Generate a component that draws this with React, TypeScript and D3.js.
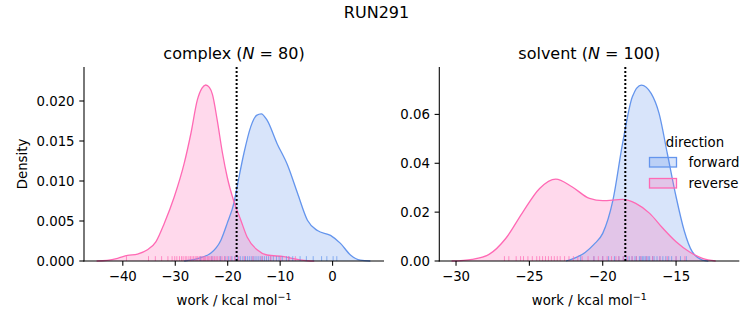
import React from 'react';
import * as d3 from 'd3';

// ---------- data ----------
const complexForwardCurve: [number, number][] = [
  [-28.3, 0], [-25.8, 0.0003], [-23.2, 0.0010], [-21.3, 0.0026], [-20.1, 0.0047],
  [-18.8, 0.0073], [-18.2, 0.0093], [-16.9, 0.0135], [-15.6, 0.0168], [-14.5, 0.0182],
  [-13.6, 0.0184], [-12.5, 0.0176], [-10.6, 0.0147], [-8.6, 0.0120], [-6.7, 0.0085],
  [-4.8, 0.0051], [-2.9, 0.0038], [-0.4, 0.0032], [1.5, 0.0022], [3.4, 0.00075],
  [5.3, 0.0001], [7.2, 0],
];
const complexReverseCurve: [number, number][] = [
  [-45.0, 0], [-43.0, 0.00008], [-41.0, 0.00033], [-39.1, 0.0007], [-37.2, 0.00087],
  [-35.3, 0.0014], [-33.7, 0.0024], [-32.1, 0.0047], [-30.2, 0.0080], [-28.3, 0.0122],
  [-27.0, 0.0160], [-25.8, 0.0201], [-24.9, 0.0216], [-24.2, 0.0220], [-23.5, 0.0217],
  [-22.9, 0.0208], [-22.0, 0.0176], [-21.0, 0.0135], [-20.1, 0.0105], [-18.8, 0.0074],
  [-17.5, 0.0051], [-16.3, 0.0030], [-14.4, 0.0014], [-12.5, 0.00075], [-9.3, 0.00054],
  [-6.7, 0.0002], [-4.8, 0.00003], [-3.5, 0],
];
const solventForwardCurve: [number, number][] = [
  [-22.5, 0], [-21.8, 0.0015], [-21.2, 0.0035], [-20.6, 0.0068], [-20.0, 0.0113],
  [-19.3, 0.025], [-18.65, 0.048], [-17.98, 0.0672], [-17.37, 0.0720], [-16.7, 0.0686],
  [-16.16, 0.0604], [-15.6, 0.0441], [-15.0, 0.0263], [-14.46, 0.0127], [-13.9, 0.0038],
  [-13.2, 0.0004], [-12.8, 0],
];
const solventReverseCurve: [number, number][] = [
  [-30.3, 0], [-28.9, 0.0007], [-27.75, 0.0027], [-26.6, 0.0093], [-25.5, 0.0195],
  [-24.3, 0.0297], [-23.2, 0.0335], [-22.1, 0.0304], [-20.9, 0.0256], [-20.0, 0.0247],
  [-18.65, 0.0252], [-17.75, 0.0236], [-16.8, 0.0195], [-15.9, 0.0134], [-15.0, 0.0079],
  [-14.1, 0.0038], [-13.2, 0.0011], [-12.3, 0],
];

const complexForwardRug = [
  -25.2, -23.0, -21.4, -20.5, -19.8, -19.2, -18.6, -18.1, -17.6, -17.1, -16.6, -16.2,
  -15.8, -15.4, -15.0, -14.6, -14.2, -13.8, -13.4, -13.0, -12.6, -12.2, -11.8, -11.3,
  -10.7, -10.2, -9.6, -8.8, -8.3, -7.6, -6.2, -5.0, -3.7, -2.1, -1.1, 0.1, 0.8,
];
const complexReverseRug = [
  -39.3, -35.1, -33.8, -32.6, -31.4, -30.6, -30.1, -29.7, -29.2, -28.8, -28.5, -28.1,
  -27.8, -27.4, -27.1, -26.8, -26.5, -26.2, -25.9, -25.7, -25.4, -25.1, -24.9, -24.6,
  -24.4, -24.2, -23.9, -23.7, -23.4, -23.1, -22.8, -22.5, -22.2, -21.9, -21.5, -21.1,
  -20.6, -20.1, -19.4, -18.7, -17.9, -16.8, -15.2, -13.5, -11.8, -9.9, -8.4, -7.1,
];
const solventForwardRug = [
  -21.5, -20.6, -20.0, -19.6, -19.2, -18.9, -18.6, -18.4, -18.2, -18.0, -17.8, -17.7,
  -17.5, -17.4, -17.3, -17.2, -17.1, -17.0, -16.9, -16.8, -16.6, -16.5, -16.3, -16.1,
  -15.9, -15.7, -15.5, -15.3, -15.0, -14.7, -14.3,
];
const solventReverseRug = [
  -26.7, -26.4, -25.9, -25.6, -25.4, -25.1, -24.8, -24.5, -24.3, -24.1, -23.9, -23.7,
  -23.5, -23.3, -23.1, -22.9, -22.6, -22.3, -22.0, -21.7, -21.4, -21.0, -20.6, -20.3,
  -20.0, -19.7, -19.4, -19.1, -18.9, -18.6, -18.3, -18.0, -17.7, -17.4, -17.0, -16.6,
  -16.1, -15.6, -15.0, -14.4,
];

const complexXTicks = [-40, -30, -20, -10, 0];
const complexYTicks = [0, 0.005, 0.01, 0.015, 0.02];
const solventXTicks = [-30, -25, -20, -15];
const solventYTicks = [0, 0.02, 0.04, 0.06];

const complexMarker = -18.3;
const solventMarker = -18.46;

const directions = ['forward', 'reverse'];
const colors = ['#6495ED', '#FF69B4'];

// ---------- layout ----------
const W = 753;
const H = 325;
const FONT = 'DejaVu Sans, sans-serif';
const TOP = 67;
const BOTTOM = 261;

const fmtMinus = (s: string) => s.replace('-', '\u2212');

interface PanelProps {
  left: number;
  right: number;
  xDomain: [number, number];
  yDomain: [number, number];
  xTicks: number[];
  yTicks: number[];
  yFmt: string;
  curves: [number, number][][];
  rugs: number[][];
  marker: number;
  titleName: string;
  n: number;
  showYLabel: boolean;
  showLegend: boolean;
}

function Panel(p: PanelProps) {
  const x = d3.scaleLinear().domain(p.xDomain).range([p.left, p.right]);
  const y = d3.scaleLinear().domain(p.yDomain).range([BOTTOM, TOP]);
  const area = d3
    .area<[number, number]>()
    .x((d) => x(d[0]))
    .y0(y(0))
    .y1((d) => y(d[1]))
    .curve(d3.curveMonotoneX);
  const line = d3
    .line<[number, number]>()
    .x((d) => x(d[0]))
    .y((d) => y(d[1]))
    .curve(d3.curveMonotoneX);
  const fmt = d3.format(p.yFmt);
  const cx = (p.left + p.right) / 2;
  const rugH = (BOTTOM - TOP) * 0.025;
  return (
    <g>
      {p.curves.map((c, i) => (
        <path key={'a' + i} d={area(c) || ''} fill={colors[i]} fillOpacity={0.25} stroke="none" />
      ))}
      {p.curves.map((c, i) => (
        <path key={'l' + i} d={line(c) || ''} fill="none" stroke={colors[i]} strokeWidth={1.3} />
      ))}
      {p.rugs.map((r, i) =>
        r.map((v, j) => (
          <line
            key={'r' + i + '-' + j}
            x1={x(v)}
            x2={x(v)}
            y1={BOTTOM}
            y2={BOTTOM - rugH}
            stroke={colors[i]}
            strokeOpacity={0.7}
            strokeWidth={1}
          />
        ))
      )}
      <line
        x1={x(p.marker)}
        x2={x(p.marker)}
        y1={BOTTOM}
        y2={TOP}
        stroke="#000"
        strokeWidth={2}
        strokeDasharray="2,2"
      />
      {/* spines */}
      <line x1={p.left} x2={p.left} y1={TOP} y2={BOTTOM + 0.5} stroke="#000" strokeWidth={1.07} />
      <line x1={p.left - 0.5} x2={p.right} y1={BOTTOM} y2={BOTTOM} stroke="#000" strokeWidth={1.07} />
      {/* x ticks */}
      {p.xTicks.map((t) => (
        <g key={'xt' + t}>
          <line x1={x(t)} x2={x(t)} y1={BOTTOM} y2={BOTTOM + 4.7} stroke="#000" strokeWidth={1.07} />
          <text x={x(t)} y={BOTTOM + 20} textAnchor="middle" fontSize={13.3} fontFamily={FONT} fill="#000">
            {fmtMinus(String(t))}
          </text>
        </g>
      ))}
      {/* y ticks */}
      {p.yTicks.map((t) => (
        <g key={'yt' + t}>
          <line x1={p.left} x2={p.left - 4.7} y1={y(t)} y2={y(t)} stroke="#000" strokeWidth={1.07} />
          <text
            x={p.left - 9.4}
            y={y(t) + 4.8}
            textAnchor="end"
            fontSize={13.3}
            fontFamily={FONT}
            fill="#000"
          >
            {fmt(t)}
          </text>
        </g>
      ))}
      {/* x label */}
      <text x={cx} y={305} textAnchor="middle" fontSize={13.3} fontFamily={FONT} fill="#000">
        <tspan>work / kcal mol</tspan>
        <tspan dy={-5} fontSize={9.5}>
          {'\u22121'}
        </tspan>
      </text>
      {p.showYLabel && (
        <text
          transform={`translate(${26.5},${(TOP + BOTTOM) / 2}) rotate(-90)`}
          textAnchor="middle"
          fontSize={13.3}
          fontFamily={FONT}
          fill="#000"
        >
          Density
        </text>
      )}
      {/* title */}
      <text x={cx} y={59} textAnchor="middle" fontSize={16} fontFamily={FONT} fill="#000">
        <tspan>{p.titleName} (</tspan>
        <tspan fontStyle="italic">N</tspan>
        <tspan>{` = ${p.n})`}</tspan>
      </text>
      {p.showLegend && (
        <g>
          <text x={695} y={146.5} textAnchor="middle" fontSize={13.3} fontFamily={FONT} fill="#000">
            direction
          </text>
          {directions.map((d, i) => (
            <g key={d}>
              <rect
                x={649.5}
                y={157.5 + i * 21}
                width={27}
                height={9.5}
                fill={colors[i]}
                fillOpacity={0.25}
                stroke={colors[i]}
                strokeWidth={1.3}
              />
              <text x={688.5} y={167 + i * 21} fontSize={13.3} fontFamily={FONT} fill="#000">
                {d}
              </text>
            </g>
          ))}
        </g>
      )}
    </g>
  );
}

export default function App() {
  return (
    <svg
      width={W}
      height={H}
      viewBox={`0 0 ${W} ${H}`}
      style={{ position: 'absolute', left: 0, top: 0, background: '#fff' }}
    >
      <rect x={0} y={0} width={W} height={H} fill="#fff" />
      <text x={376.5} y={17.5} textAnchor="middle" fontSize={16} fontFamily={FONT} fill="#000">
        RUN291
      </text>
      <Panel
        left={84}
        right={384}
        xDomain={[-47.4, 9.8]}
        yDomain={[0, 0.02425]}
        xTicks={complexXTicks}
        yTicks={complexYTicks}
        yFmt=".3f"
        curves={[complexForwardCurve, complexReverseCurve]}
        rugs={[complexForwardRug, complexReverseRug]}
        marker={complexMarker}
        titleName="complex"
        n={80}
        showYLabel={true}
        showLegend={false}
      />
      <Panel
        left={439.3}
        right={739.3}
        xDomain={[-31.14, -10.69]}
        yDomain={[0, 0.0794]}
        xTicks={solventXTicks}
        yTicks={solventYTicks}
        yFmt=".2f"
        curves={[solventForwardCurve, solventReverseCurve]}
        rugs={[solventForwardRug, solventReverseRug]}
        marker={solventMarker}
        titleName="solvent"
        n={100}
        showYLabel={false}
        showLegend={true}
      />
    </svg>
  );
}
